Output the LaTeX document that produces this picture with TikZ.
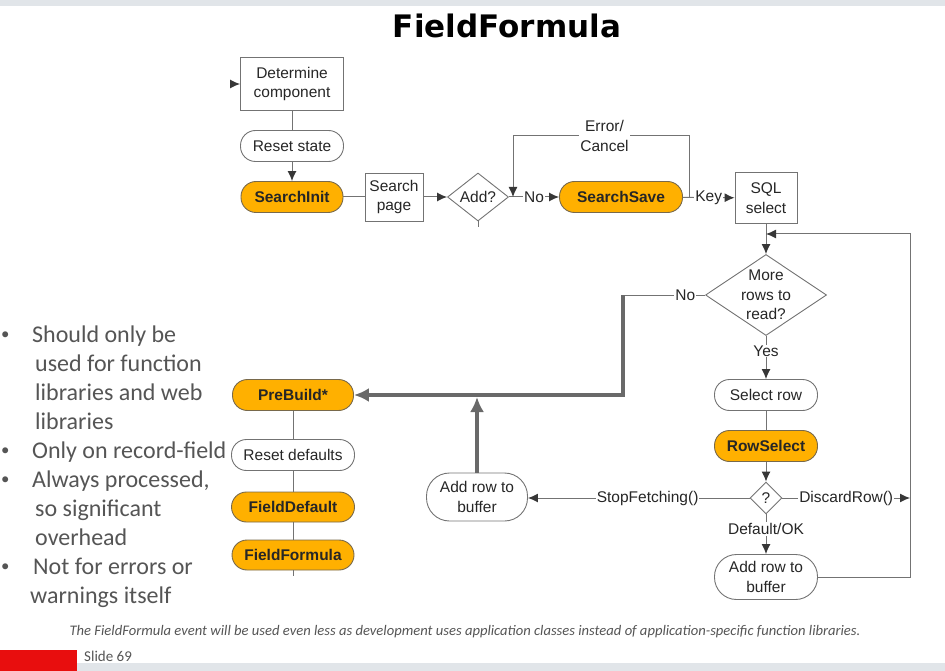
\documentclass[tikz,border=0pt]{standalone}
\usepackage{fontspec}
\setmainfont{Liberation Sans}
\newfontfamily\calfont{Carlito}
\newfontfamily\headfont{DejaVu Sans}
\usetikzlibrary{shapes.geometric,arrows.meta}
\definecolor{evorange}{RGB}{255,176,0}
\definecolor{evedge}{RGB}{120,105,75}
\definecolor{lnkgray}{RGB}{115,115,115}
\definecolor{tipgray}{RGB}{55,55,55}
\definecolor{fatgray}{RGB}{105,105,105}
\definecolor{bandgray}{RGB}{225,229,233}
\definecolor{slidered}{RGB}{232,14,14}
\definecolor{txtgray}{RGB}{85,85,85}

\begin{document}
\begin{tikzpicture}[x=1pt,y=-1pt,
  every node/.style={text=black!85,font=\fontsize{15.5}{19.5}\selectfont},
  plainbox/.style={draw=lnkgray,shape=rectangle,align=center,line width=0.9pt},
  oval/.style={draw=lnkgray,shape=rectangle,rounded corners=15pt,minimum width=103pt,minimum height=31pt,align=center,line width=0.9pt},
  event/.style={oval,fill=evorange,draw=evedge,font=\fontsize{15.5}{19.5}\selectfont\bfseries},
  decision/.style={draw=lnkgray,shape=diamond,inner sep=0pt,align=center,line width=0.9pt},
  flow/.style={draw=lnkgray,line width=1pt},
  arr/.style={-{Latex[length=10pt,width=9pt,color=tipgray]}},
  thickflow/.style={draw=fatgray,line width=4pt,-{Latex[length=15pt,width=14pt]}},
  tag/.style={fill=white,inner sep=1pt}]

\useasboundingbox (0,0) rectangle (945,671);
\fill[bandgray] (0,0) rectangle (945,6);
\fill[bandgray] (77,663) rectangle (945,671);
\fill[slidered] (0,650) rectangle (77,671);

\node (title) [font=\headfont\bfseries\fontsize{31}{36}\selectfont,text=black] at (507,26) {FieldFormula};

\node (det) [plainbox,minimum width=103pt,minimum height=53pt] at (292,84) {Determine\\component};
\node (reset) [oval] at (292,146) {Reset state};
\node (sinit) [event,minimum width=102pt] at (292,197) {SearchInit};
\node (spage) [plainbox,minimum width=58pt,minimum height=48pt,inner sep=1pt] at (394,197) {Search\\page};
\node (add) [decision,minimum width=61pt,minimum height=48pt] at (478,197) {Add?};
\node (ssave) [event,minimum width=123pt] at (621,197) {SearchSave};
\node (sql) [plainbox,minimum width=62pt,minimum height=51pt] at (766,198) {SQL\\select};
\node (rows) [decision,minimum width=121pt,minimum height=81pt,inner sep=-4pt,aspect=1.5] at (766,295) {More\\rows to\\read?};
\node (selrow) [oval] at (766,395) {Select row};
\node (rowsel) [event] at (766,446) {RowSelect};
\node (q) [decision,minimum width=32pt,minimum height=32pt] at (766,498) {?};
\node (addR) [oval,minimum height=45pt,rounded corners=22pt] at (766,577) {Add row to\\buffer};
\node (addL) [oval,minimum width=101pt,minimum height=48pt,rounded corners=23pt] at (477,497) {Add row to\\buffer};
\node (prebuild) [event,minimum width=121pt] at (293,395) {PreBuild*};
\node (resetd) [oval,minimum width=123pt] at (293,455) {Reset defaults};
\node (fdef) [event,minimum width=123pt,minimum height=30pt] at (293,507) {FieldDefault};
\node (fform) [event,minimum width=122pt,minimum height=30pt] at (293,555) {FieldFormula};

\coordinate (detin) at (231,84);
\coordinate (errR) at (689,197);
\coordinate (errL) at (513,197);
\coordinate (nobend) at (623,295);
\coordinate (loopin) at (766,234);
\coordinate (discard) at (910,498);

\draw[flow,arr] (detin) -- (det);
\draw[flow] (det) -- (reset);
\draw[flow,arr] (reset) -- (sinit);
\draw[flow] (sinit) -- (spage);
\draw[flow,arr] (spage) -- (add);
\draw[flow] (add.south) -- ++(0,6);
\draw[flow,arr] (add) -- node[tag] {No} (ssave);
\draw[flow,arr] (errR) -- ++(0,-61) -| node[tag,pos=0.24,align=center] {Error/\\Cancel} (errL);
\draw[flow,arr] (ssave) -- node[tag] {Key} (sql);
\draw[flow,arr] (sql) -- (rows);
\draw[flow] (rows) -- node[tag,pos=0.24] {No} (nobend);
\draw[thickflow] (nobend) |- (prebuild);
\draw[thickflow,shorten >=2pt] (addL) -- (addL |- prebuild);
\draw[flow,arr] (rows) -- node[tag,pos=0.35] {Yes} (selrow);
\draw[flow] (selrow) -- (rowsel);
\draw[flow,arr] (rowsel) -- (q);
\draw[flow,arr] (q) -- node[tag,pos=0.46] {StopFetching()} (addL.east |- q);
\draw[flow,arr] (q) -- node[tag] {DiscardRow()} (discard);
\draw[flow,arr] (q) -- node[tag,pos=0.37] {Default/OK} (addR);
\draw[flow,arr] (addR.east) -- ++(93,0) |- (loopin);
\draw[flow] (prebuild) -- (resetd);
\draw[flow] (resetd) -- (fdef);
\draw[flow] (fdef) -- (fform);
\draw[flow] (fform.south) -- ++(0,6);

\node (notes) [anchor=north west,inner sep=0pt,align=left,text=txtgray,font=\calfont\fontsize{24}{29}\selectfont] at (1,322) {%
\begin{tabular}{@{}p{31pt}@{}l@{}}
\raisebox{3.5pt}{\scalebox{0.7}{•}} & Should only be\\
  & \hspace{3pt}used for function\\
  & \hspace{3pt}libraries and web\\
  & \hspace{3pt}libraries\\
\raisebox{3.5pt}{\scalebox{0.7}{•}} & Only on record-field\\
\raisebox{3.5pt}{\scalebox{0.7}{•}} & Always processed,\\
  & \hspace{3pt}so significant\\
  & \hspace{3pt}overhead\\
\raisebox{3.5pt}{\scalebox{0.7}{•}} & \hspace{1pt}Not for errors or\\
  & \hspace{-2pt}warnings itself
\end{tabular}};

\node (footnote) [font=\calfont\itshape\fontsize{14.6}{17}\selectfont,text=txtgray] at (465,632) {The FieldFormula event will be used even less as development uses application classes instead of application-specific function libraries.};
\node (slideno) [anchor=west,inner sep=0pt,font=\calfont\fontsize{15}{17}\selectfont,text=txtgray] at (84,656) {Slide 69};

\end{tikzpicture}
\end{document}
